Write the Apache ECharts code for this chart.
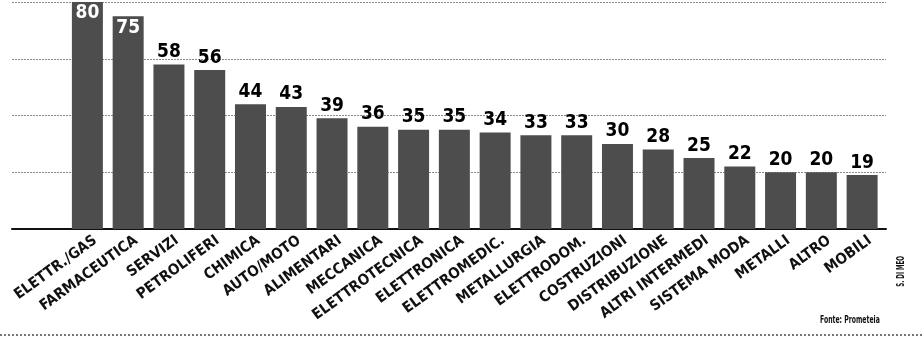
<!DOCTYPE html>
<html>
<head>
<meta charset="utf-8">
<script src="https://cdn.jsdelivr.net/npm/echarts@6/dist/echarts.min.js"></script>
<style>
  html, body { margin: 0; padding: 0; background: #fff; }
  #chart { width: 922px; height: 338px; }
</style>
</head>
<body>
<div id="chart"></div>
<script>
    // settori, valori
    const sectors = ['ELETTR./GAS', 'FARMACEUTICA', 'SERVIZI', 'PETROLIFERI', 'CHIMICA', 'AUTO/MOTO',
        'ALIMENTARI', 'MECCANICA', 'ELETTROTECNICA', 'ELETTRONICA', 'ELETTROMEDIC.', 'METALLURGIA',
        'ELETTRODOM.', 'COSTRUZIONI', 'DISTRIBUZIONE', 'ALTRI INTERMEDI', 'SISTEMA MODA', 'METALLI',
        'ALTRO', 'MOBILI'];
    const values = [80, 75, 58, 56, 44, 43, 39, 36, 35, 35, 34, 33, 33, 30, 28, 25, 22, 20, 20, 19];
    const yTicks = [0, 20, 40, 60, 80];

    const barFont = 'DejaVu Sans Condensed';
    const chart = echarts.init(document.getElementById('chart'), null, {renderer: 'canvas'});

    const barData = values.map((v, i) => {
        // le due barre piu' alte hanno l'etichetta bianca dentro
        if (i < 2) {
            return {
                value: v,
                label: {position: 'insideTop', color: '#fff', distance: 2}
            };
        }
        return v;
    });

    const yCommon = {type: 'value', min: yTicks[0], max: yTicks[yTicks.length - 1], interval: 20};

    chart.setOption({
        animation: false,
        grid: [
            // griglia di sfondo, piu' larga delle barre
            {left: 12, right: 36, top: 2, height: 227},
            {left: 67, right: 39.5, top: 2, height: 227},
            // solo per le etichette, un po' spostate a destra come nell'originale
            {left: 75, right: 31.5, top: 2, height: 227}
        ],
        xAxis: [
            {
                gridIndex: 0, type: 'category', data: [''],
                axisLine: {show: true, lineStyle: {color: '#111', width: 2}},
                axisTick: {show: false}, axisLabel: {show: false}
            },
            {
                gridIndex: 1, type: 'category', data: sectors,
                axisLine: {show: false}, axisTick: {show: false}, axisLabel: {show: false}
            },
            {
                gridIndex: 2, type: 'category', data: sectors,
                axisLine: {show: false}, axisTick: {show: false},
                axisLabel: {
                    interval: 0, rotate: 36, margin: 10,
                    fontFamily: barFont, fontWeight: 'bold', fontSize: 15, color: '#111'
                }
            }
        ],
        yAxis: [
            Object.assign({
                gridIndex: 0,
                axisLine: {show: false}, axisTick: {show: false}, axisLabel: {show: false},
                splitLine: {show: true, lineStyle: {color: '#8a8a8a', width: 1, type: [2, 1]}}
            }, yCommon),
            Object.assign({gridIndex: 1, show: false, splitLine: {show: false}}, yCommon),
            Object.assign({gridIndex: 2, show: false, splitLine: {show: false}}, yCommon)
        ],
        series: [
            {
                type: 'bar',
                xAxisIndex: 1, yAxisIndex: 1,
                data: barData,
                barWidth: 31,
                itemStyle: {color: '#4d4d4d'},
                label: {
                    show: true, position: 'top', distance: 3,
                    fontFamily: barFont, fontWeight: 'bold', fontSize: 19, color: '#000'
                }
            }
        ],
        graphic: [
            {
                type: 'line', silent: true,
                shape: {x1: 0, y1: 335, x2: 922, y2: 335},
                style: {stroke: '#777', lineWidth: 2, lineDash: [2, 2]}
            },
            {
                type: 'text', left: 820, top: 315, scaleX: 0.62,
                style: {text: 'Fonte: Prometeia', font: 'bold 11px "DejaVu Sans Condensed"', fill: '#111'}
            },
            {
                type: 'text', left: 896, top: 256, rotation: Math.PI / 2, scaleX: 0.62,
                style: {text: 'S. DI MEO', font: 'bold 10px "DejaVu Sans Condensed"', fill: '#111'}
            }
        ]
    });
</script>
</body>
</html>
